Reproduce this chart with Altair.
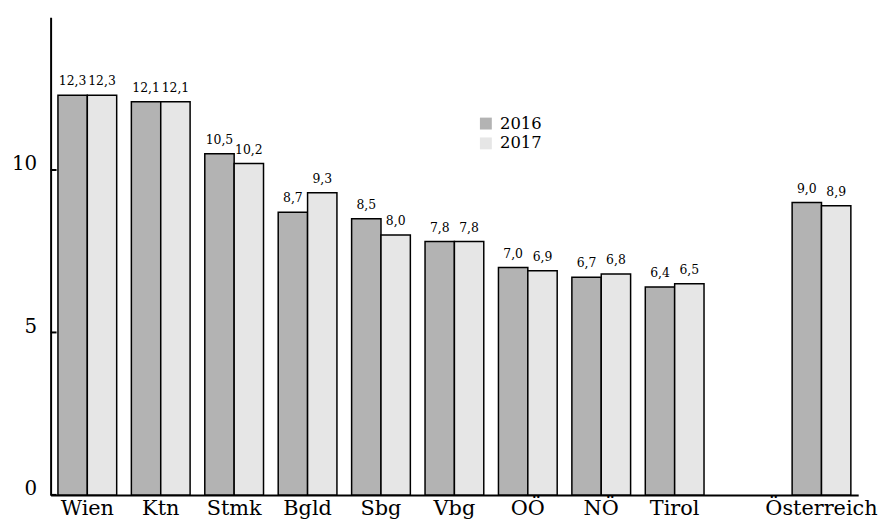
import altair as alt
import pandas as pd

regions = ["Wien", "Ktn", "Stmk", "Bgld", "Sbg", "Vbg", "OÖ", "NÖ", "Tirol", "Österreich"]
values_2016 = [12.3, 12.1, 10.5, 8.7, 8.5, 7.8, 7.0, 6.7, 6.4, 9.0]
values_2017 = [12.3, 12.1, 10.2, 9.3, 8.0, 7.8, 6.9, 6.8, 6.5, 8.9]
years = ["2016", "2017"]
x_domain = ["Wien", "Ktn", "Stmk", "Bgld", "Sbg", "Vbg", "OÖ", "NÖ", "Tirol", " ", "Österreich"]
y_ticks = [0, 5, 10]
colors = ["#b3b3b3", "#e6e6e6"]

rows = []
for r, a, b in zip(regions, values_2016, values_2017):
    for y, v in zip(years, [a, b]):
        rows.append({"region": r, "year": y, "value": v,
                     "label": f"{v:.1f}".replace(".", ",")})
df = pd.DataFrame(rows)
ticks_df = pd.DataFrame({"t": y_ticks})

FONT = "DejaVu Serif"

x_enc = alt.X("region:N", scale=alt.Scale(domain=x_domain, paddingInner=0.2, paddingOuter=0.1),
              axis=alt.Axis(title=None, labelAngle=0, ticks=False, labelFont=FONT, labelFontSize=21,
                            labelColor="black", labelPadding=3, domainColor="black", domainWidth=2))
y_scale = alt.Scale(domain=[0, 14.7], nice=False)
xo = alt.XOffset("year:N", scale=alt.Scale(paddingInner=0, paddingOuter=0))

bars = alt.Chart(df).mark_bar(stroke="black", strokeWidth=1.5).encode(
    x=x_enc,
    xOffset=xo,
    y=alt.Y("value:Q", scale=y_scale,
            axis=alt.Axis(title=None, values=y_ticks, ticks=False, grid=False, labelFont=FONT,
                          labelFontSize=20, labelColor="black", labelPadding=14,
                          labelBaseline="alphabetic",
                          domainColor="black", domainWidth=2)),
    color=alt.Color("year:N", scale=alt.Scale(domain=years, range=colors),
                    legend=alt.Legend(title=None, orient="none", legendX=431, legendY=99,
                                      symbolType="square", symbolSize=144, symbolStrokeWidth=0,
                                      symbolOpacity=1, labelFont=FONT, labelFontSize=16.5,
                                      labelColor="black", labelOffset=6, rowPadding=3)),
)

text = alt.Chart(df).mark_text(font=FONT, fontSize=12.5, dy=-7, baseline="bottom", color="black").encode(
    x=alt.X("region:N", scale=alt.Scale(domain=x_domain, paddingInner=0.2, paddingOuter=0.1)),
    xOffset=xo,
    y=alt.Y("value:Q", scale=y_scale),
    text="label:N",
)

ticks = alt.Chart(ticks_df).mark_rule(color="black", strokeWidth=2).encode(
    y=alt.Y("t:Q", scale=y_scale),
    x=alt.value(0),
    x2=alt.value(6),
)

chart = alt.layer(bars, text, ticks).properties(
    width=815, height=482,
    padding={"left": 43, "top": 7, "right": 22, "bottom": 28},
    autosize=alt.AutoSizeParams(type="none"),
).configure_view(stroke=None)

chart.save("out.html", embed_options={"renderer": "svg", "actions": False})
